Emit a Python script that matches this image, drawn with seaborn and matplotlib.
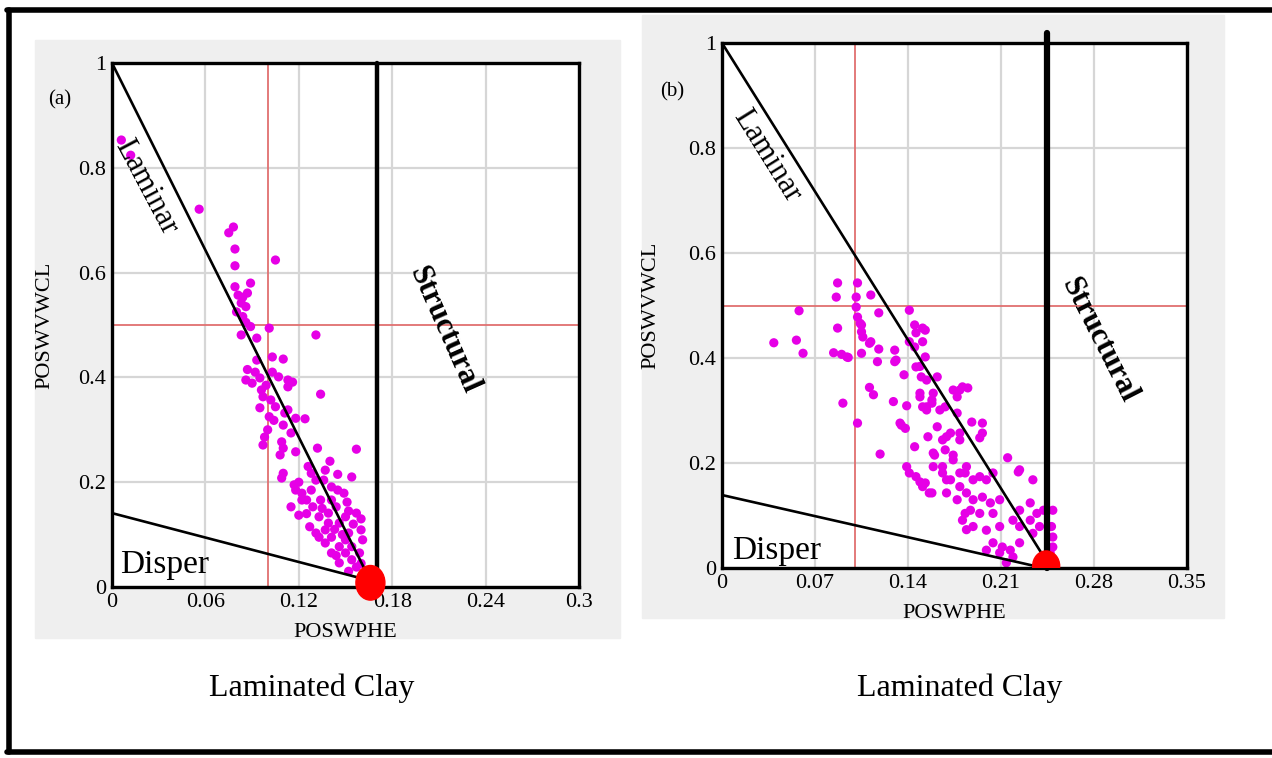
import matplotlib
matplotlib.use("Agg")
import matplotlib.pyplot as plt
import seaborn as sns
import pandas as pd
from matplotlib.patches import Ellipse, Rectangle
from matplotlib.lines import Line2D

# ---- data ----
# panel (a): POSWPHE vs POSWVWCL
a_x = [0.006, 0.012, 0.056, 0.078, 0.075, 0.079, 0.079, 0.105, 0.079, 0.089,
       0.081, 0.084, 0.087, 0.083, 0.086, 0.080, 0.084, 0.089, 0.101, 0.083,
       0.131, 0.093, 0.103, 0.110, 0.086, 0.090, 0.095, 0.099, 0.103, 0.107,
       0.113, 0.116, 0.113, 0.134, 0.096, 0.097, 0.095, 0.102, 0.105, 0.111,
       0.113, 0.118, 0.124, 0.110, 0.115, 0.100, 0.098, 0.097, 0.109, 0.110,
       0.118, 0.108, 0.132, 0.157, 0.110, 0.109, 0.117, 0.118, 0.122, 0.115,
       0.120, 0.125, 0.128, 0.131, 0.137, 0.136, 0.141, 0.154, 0.149, 0.151,
       0.157, 0.160, 0.161, 0.129, 0.133, 0.127, 0.131, 0.137, 0.141, 0.146,
       0.150, 0.154, 0.157, 0.141, 0.146, 0.139, 0.144, 0.146, 0.152, 0.154,
       0.122, 0.134, 0.141, 0.150, 0.137, 0.150, 0.159, 0.143, 0.135, 0.128,
       0.145, 0.139, 0.148, 0.155, 0.152, 0.160, 0.133, 0.144, 0.152, 0.160,
       0.125, 0.120, 0.126, 0.140, 0.145, 0.093, 0.086, 0.087, 0.092, 0.104,
       0.101]
a_y = [0.853, 0.824, 0.721, 0.687, 0.676, 0.645, 0.613, 0.624, 0.573, 0.580,
       0.557, 0.553, 0.561, 0.542, 0.535, 0.525, 0.516, 0.497, 0.494, 0.481,
       0.481, 0.433, 0.439, 0.435, 0.395, 0.389, 0.399, 0.385, 0.410, 0.401,
       0.395, 0.391, 0.382, 0.368, 0.376, 0.363, 0.342, 0.357, 0.344, 0.332,
       0.338, 0.322, 0.321, 0.309, 0.294, 0.300, 0.286, 0.271, 0.277, 0.265,
       0.258, 0.252, 0.265, 0.263, 0.217, 0.208, 0.195, 0.185, 0.179, 0.153,
       0.137, 0.166, 0.217, 0.204, 0.223, 0.204, 0.191, 0.210, 0.179, 0.162,
       0.141, 0.109, 0.090, 0.153, 0.134, 0.115, 0.103, 0.109, 0.095, 0.077,
       0.065, 0.052, 0.038, 0.065, 0.046, 0.141, 0.153, 0.122, 0.103, 0.077,
       0.166, 0.166, 0.166, 0.134, 0.084, 0.090, 0.065, 0.110, 0.150, 0.185,
       0.185, 0.122, 0.100, 0.120, 0.145, 0.130, 0.095, 0.060, 0.030, 0.045,
       0.140, 0.200, 0.230, 0.240, 0.215, 0.475, 0.505, 0.415, 0.410, 0.318,
       0.325]

# panel (b)
b_x = [0.087, 0.086, 0.102, 0.101, 0.112, 0.118, 0.058, 0.141, 0.101, 0.102,
       0.105, 0.087, 0.145, 0.151, 0.039, 0.056, 0.061, 0.084, 0.090, 0.095,
       0.105, 0.105, 0.111, 0.118, 0.117, 0.130, 0.131, 0.137, 0.141, 0.145,
       0.149, 0.153, 0.111, 0.114, 0.091, 0.129, 0.139, 0.102, 0.135, 0.138,
       0.119, 0.149, 0.154, 0.158, 0.164, 0.174, 0.179, 0.177, 0.162, 0.155,
       0.166, 0.172, 0.179, 0.145, 0.159, 0.174, 0.139, 0.141, 0.149, 0.151,
       0.156, 0.166, 0.169, 0.179, 0.183, 0.183, 0.184, 0.104, 0.106, 0.112,
       0.094, 0.130, 0.146, 0.153, 0.151, 0.146, 0.150, 0.154, 0.162, 0.159,
       0.149, 0.151, 0.158, 0.181, 0.185, 0.177, 0.168, 0.154, 0.134, 0.169,
       0.179, 0.188, 0.196, 0.196, 0.194, 0.160, 0.168, 0.174, 0.146, 0.153,
       0.158, 0.159, 0.166, 0.172, 0.179, 0.184, 0.189, 0.194, 0.199, 0.204,
       0.215, 0.223, 0.234, 0.169, 0.177, 0.184, 0.189, 0.196, 0.202, 0.209,
       0.187, 0.194, 0.204, 0.181, 0.189, 0.199, 0.209, 0.219, 0.224, 0.232,
       0.237, 0.242, 0.249, 0.232, 0.239, 0.248, 0.249, 0.234, 0.224, 0.204,
       0.211, 0.217, 0.209, 0.199, 0.224, 0.249, 0.247, 0.219, 0.214, 0.224]
b_y = [0.543, 0.516, 0.543, 0.516, 0.520, 0.486, 0.490, 0.491, 0.497, 0.478,
       0.463, 0.457, 0.463, 0.457, 0.429, 0.434, 0.409, 0.410, 0.407, 0.401,
       0.409, 0.450, 0.428, 0.417, 0.393, 0.415, 0.396, 0.368, 0.431, 0.421,
       0.384, 0.402, 0.344, 0.330, 0.314, 0.317, 0.309, 0.276, 0.272, 0.266,
       0.217, 0.326, 0.307, 0.320, 0.301, 0.339, 0.339, 0.295, 0.269, 0.250,
       0.244, 0.257, 0.244, 0.231, 0.219, 0.215, 0.193, 0.181, 0.164, 0.155,
       0.143, 0.193, 0.168, 0.155, 0.181, 0.104, 0.073, 0.466, 0.440, 0.431,
       0.402, 0.393, 0.448, 0.453, 0.431, 0.383, 0.364, 0.358, 0.364, 0.333,
       0.333, 0.307, 0.314, 0.345, 0.343, 0.326, 0.307, 0.301, 0.276, 0.250,
       0.257, 0.278, 0.276, 0.257, 0.248, 0.215, 0.225, 0.206, 0.174, 0.162,
       0.143, 0.193, 0.181, 0.168, 0.181, 0.193, 0.168, 0.174, 0.168, 0.181,
       0.210, 0.183, 0.168, 0.143, 0.130, 0.143, 0.130, 0.135, 0.124, 0.130,
       0.110, 0.104, 0.104, 0.091, 0.079, 0.072, 0.079, 0.091, 0.110, 0.124,
       0.104, 0.110, 0.110, 0.091, 0.079, 0.079, 0.059, 0.066, 0.079, 0.048,
       0.040, 0.034, 0.029, 0.034, 0.048, 0.040, 0.029, 0.021, 0.010, 0.187]

a_xticks = [0, 0.06, 0.12, 0.18, 0.24, 0.3]
a_xlabels = ["0", "0.06", "0.12", "0.18", "0.24", "0.3"]
b_xticks = [0, 0.07, 0.14, 0.21, 0.28, 0.35]
b_xlabels = ["0", "0.07", "0.14", "0.21", "0.28", "0.35"]
yticks = [0, 0.2, 0.4, 0.6, 0.8, 1]
ylabels = ["0", "0.2", "0.4", "0.6", "0.8", "1"]

# boundary lines (x list, y list)
a_laminar = ([0, 0.166], [1, 0.012])
a_disper = ([0, 0.166], [0.141, 0.012])
a_struct = ([0.17, 0.17], [0, 1.0])
a_point = (0.166, 0.008)
b_laminar = ([0, 0.245], [1, 0.01])
b_disper = ([0, 0.242], [0.139, 0.0])
b_struct = ([0.2445, 0.2445], [0, 1.02])
b_point = (0.244, 0.004)

sns.set_style("white")
plt.rcParams['font.family'] = ['Liberation Serif', 'DejaVu Serif']
plt.rcParams['text.color'] = 'black'
plt.rcParams['axes.labelcolor'] = 'black'
plt.rcParams['xtick.color'] = 'black'
plt.rcParams['ytick.color'] = 'black'

W, H = 1272, 758
fig = plt.figure(figsize=(W / 100, H / 100), dpi=100)
fig.patch.set_facecolor("white")


def px_rect(l, t, r, b):
    return [l / W, 1 - b / H, (r - l) / W, (b - t) / H]


# gray panel backgrounds
fig.patches.append(Rectangle((35 / W, 1 - 638 / H), 585 / W, 598 / H,
                             transform=fig.transFigure, color="#efefef", zorder=-10))
fig.patches.append(Rectangle((642 / W, 1 - 618 / H), 582 / W, 603 / H,
                             transform=fig.transFigure, color="#efefef", zorder=-10))
# outer frame
for xs, ys in [([9, 9], [10, 752]), ([7, W], [10, 10]), ([7, W], [752, 752])]:
    fig.lines.append(Line2D([x / W for x in xs], [1 - y / H for y in ys],
                            transform=fig.transFigure, color="black", lw=4))

magenta = "#e600e6"


def panel(ax, xs, ys, xmax, xticks, xlabels, lam, dis, struct, pt, ell_w, ell_h,
          struct_lw, clip_pt, lam_txt, str_txt, dis_txt, axh):
    ax.set_facecolor("white")
    ax.set_xlim(0, xmax)
    ax.set_ylim(0, 1)
    ax.set_xticks(xticks)
    ax.set_xticklabels(xlabels)
    ax.set_yticks(yticks)
    ax.set_yticklabels(ylabels)
    ax.tick_params(length=0, labelsize=16, pad=4)
    ax.grid(True, color="#d6d6d6", lw=1.6, zorder=0)
    ax.set_axisbelow(True)
    for s in ax.spines.values():
        s.set_color("black")
        s.set_linewidth(2.4)
    ax.axvline(0.1, color="#e07070", lw=1.3, zorder=1)
    ax.axhline(0.5, color="#e07070", lw=1.3, zorder=1)
    df = pd.DataFrame({"x": xs, "y": ys})
    sns.scatterplot(data=df, x="x", y="y", ax=ax, color=magenta, s=44,
                    edgecolor="none", zorder=2, legend=False)
    ax.plot(*lam, color="black", lw=1.9, zorder=3)
    ax.plot(*dis, color="black", lw=1.9, zorder=3)
    ax.plot(*struct, color="black", lw=struct_lw, zorder=3, clip_on=False)
    e = Ellipse(pt, ell_w, ell_h, color="#ff0000", zorder=4, clip_on=clip_pt)
    ax.add_patch(e)
    ax.text(lam_txt[0], lam_txt[1], "Laminar", rotation=lam_txt[2], fontsize=22,
            ha="center", va="center", zorder=5)
    ax.text(str_txt[0], str_txt[1], "Structural", rotation=str_txt[2], fontsize=22,
            fontweight="bold", ha="center", va="center", zorder=5)
    ax.text(dis_txt[0], dis_txt[1], "Disper", fontsize=24, ha="center",
            va="center", zorder=5)
    ax.set_xlabel("POSWPHE", fontsize=16)
    ax.set_ylabel("POSWVWCL", fontsize=16)
    ax.xaxis.set_label_coords(0.5, -36 / axh)


ax1 = fig.add_axes(px_rect(112, 63, 579, 587))
panel(ax1, a_x, a_y, 0.3, a_xticks, a_xlabels, a_laminar, a_disper, a_struct,
      a_point, 0.0186, 0.066, 3.2, False,
      (0.022, 0.763, -62), (0.213, 0.49, -66), (0.034, 0.042), 524)
ax1.yaxis.set_label_coords(-58 / 467, 0.5)

ax2 = fig.add_axes(px_rect(722, 43, 1187, 568))
panel(ax2, b_x, b_y, 0.35, b_xticks, b_xlabels, b_laminar, b_disper, b_struct,
      b_point, 0.0203, 0.057, 4.5, True,
      (0.034, 0.785, -58), (0.284, 0.434, -63), (0.041, 0.032), 525)
ax2.yaxis.set_label_coords(-62 / 465, 0.5)

fig.text(60 / W, 1 - 100 / H, "(a)", fontsize=15, ha="center", va="center")
fig.text(672 / W, 1 - 92 / H, "(b)", fontsize=15, ha="center", va="center")
fig.text(312 / W, 1 - 688 / H, "Laminated Clay", fontsize=23, ha="center", va="center")
fig.text(960 / W, 1 - 688 / H, "Laminated Clay", fontsize=23, ha="center", va="center")

fig.savefig("out.png", dpi=100)
